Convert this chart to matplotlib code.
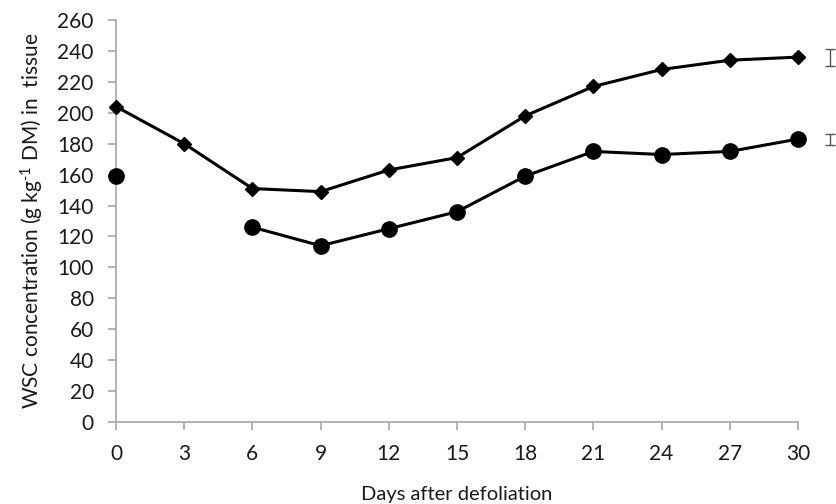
import numpy as np
import matplotlib
matplotlib.use("Agg")
import matplotlib.pyplot as plt

plt.rcParams["font.family"] = ["Lato", "DejaVu Sans"]
plt.rcParams["mathtext.default"] = "regular"

# Data
days = [0, 3, 6, 9, 12, 15, 18, 21, 24, 27, 30]
wsc_diamond = [204, 180, 151, 149, 163, 171, 198, 217, 228, 234, 236]
wsc_circle = [159, np.nan, 126, 114, 125, 136, 159, 175, 173, 175, 183]

# LSD bars shown at the right of the plot
lsd_x = [31.4, 31.4]
lsd_mid = [235.5, 182.5]
lsd_half = [5.5, 3.5]

fig = plt.figure(figsize=(8.36, 5.04), dpi=100)
ax = fig.add_axes([0.1388, 0.1627, 0.8157, 0.7976])

ax.plot(days, wsc_diamond, color="black", lw=2.2, marker="D", ms=7.5,
        clip_on=False, zorder=3)
ax.plot(days, wsc_circle, color="black", lw=2.2, marker="o", ms=11,
        clip_on=False, zorder=3)

ax.errorbar(lsd_x, lsd_mid, yerr=lsd_half, fmt="none", ecolor="#555555",
            elinewidth=1.0, capsize=3.5, capthick=1.0, clip_on=False)

ax.set_xlim(0, 30)
ax.set_ylim(0, 260)
ax.set_xticks(days)
ax.set_yticks(range(0, 261, 20))

for side in ["top", "right"]:
    ax.spines[side].set_visible(False)
for side in ["left", "bottom"]:
    ax.spines[side].set_color("#a6a6a6")
    ax.spines[side].set_linewidth(1.2)

ax.tick_params(axis="both", direction="out", length=6, width=1.2,
               color="#a6a6a6", labelsize=15, labelcolor="#1a1a1a")
ax.tick_params(axis="x", pad=10)
ax.tick_params(axis="y", pad=10)

ax.set_xlabel("Days after defoliation", fontsize=14.5, color="#1a1a1a",
              labelpad=16)
ax.set_ylabel("WSC concentration (g kg$^{\u2010 1}$ DM) in  tissue", fontsize=15,
              color="#1a1a1a", labelpad=8)

fig.savefig("out.png", dpi=100)
